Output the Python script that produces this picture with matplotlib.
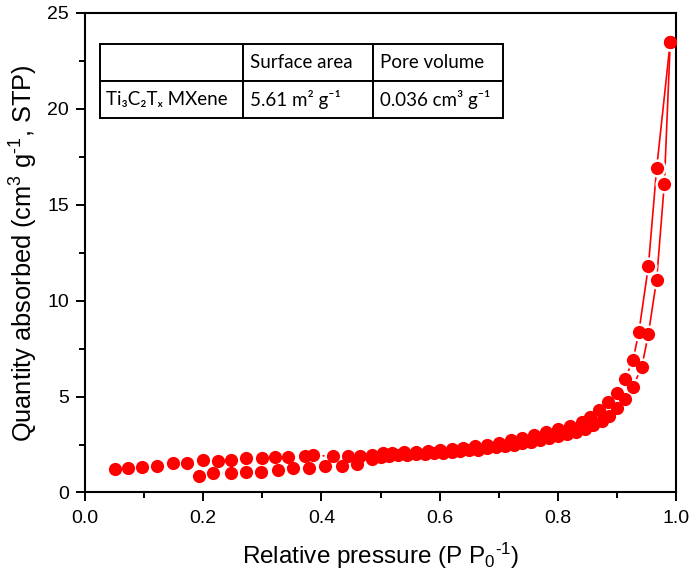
import matplotlib
matplotlib.use("Agg")
import matplotlib.pyplot as plt
from matplotlib.ticker import MultipleLocator

# Desorption branch (upper curve)
p_des = [0.051, 0.073, 0.096, 0.121, 0.148, 0.173, 0.199, 0.225, 0.247, 0.272,
         0.299, 0.321, 0.344, 0.372, 0.385, 0.420, 0.445, 0.465, 0.485, 0.504,
         0.520, 0.540, 0.560, 0.580, 0.600, 0.620, 0.640, 0.660, 0.680, 0.700,
         0.720, 0.740, 0.760, 0.780, 0.800, 0.820, 0.840, 0.855, 0.870, 0.885,
         0.900, 0.913, 0.927, 0.937, 0.953, 0.967, 0.990]
q_des = [1.21, 1.29, 1.31, 1.40, 1.55, 1.55, 1.69, 1.66, 1.68, 1.78,
         1.78, 1.84, 1.84, 1.90, 1.93, 1.90, 1.90, 1.90, 1.98, 2.04,
         2.06, 2.09, 2.12, 2.16, 2.20, 2.25, 2.32, 2.40, 2.50, 2.60,
         2.72, 2.85, 3.00, 3.15, 3.30, 3.45, 3.70, 3.95, 4.30, 4.73,
         5.17, 5.90, 6.90, 8.38, 11.80, 16.90, 23.50]

# Adsorption branch (lower curve)
p_ads = [0.192, 0.217, 0.247, 0.272, 0.297, 0.327, 0.352, 0.379, 0.406, 0.434,
         0.460, 0.485, 0.500, 0.515, 0.530, 0.545, 0.560, 0.575, 0.590, 0.605,
         0.620, 0.635, 0.650, 0.665, 0.680, 0.695, 0.710, 0.725, 0.740, 0.755,
         0.770, 0.785, 0.800, 0.815, 0.830, 0.845, 0.860, 0.874, 0.887, 0.900,
         0.914, 0.927, 0.942, 0.953, 0.967, 0.980, 0.990]
q_ads = [0.86, 1.00, 1.00, 1.08, 1.08, 1.17, 1.29, 1.29, 1.38, 1.38,
         1.47, 1.75, 1.85, 1.90, 1.93, 1.96, 1.99, 2.02, 2.05, 2.08,
         2.11, 2.15, 2.19, 2.24, 2.30, 2.36, 2.43, 2.50, 2.57, 2.65,
         2.74, 2.83, 2.93, 3.04, 3.17, 3.33, 3.52, 3.75, 4.00, 4.40,
         4.86, 5.52, 6.56, 8.26, 11.10, 16.10, 23.50]

# Table contents
col_headers = ["", "Surface area", "Pore volume"]
row_values = ["Ti\u2083C\u2082T\u2093 MXene", "5.61 m\u00b2 g\u207b\u00b9", "0.036 cm\u00b3 g\u207b\u00b9"]

plt.rcParams["font.family"] = ["Liberation Sans", "DejaVu Sans"]
plt.rcParams["mathtext.fontset"] = "custom"
plt.rcParams["mathtext.rm"] = "Liberation Sans"
plt.rcParams["mathtext.it"] = "Liberation Sans:italic"

fig = plt.figure(figsize=(6.93, 5.75), dpi=100)
ax = fig.add_axes([0.1227, 0.1435, 0.853, 0.834])

red = "#ff0000"
ms = 9.5
for p, q in [(p_des, q_des), (p_ads, q_ads)]:
    ax.plot(p, q, color=red, lw=1.2, zorder=1)
    ax.plot(p, q, ls="none", marker="o", ms=ms + 2.5, mfc="white", mec="white", zorder=2)
for p, q in [(p_des, q_des), (p_ads, q_ads)]:
    ax.plot(p, q, ls="none", marker="o", ms=ms, mfc=red, mec=red, mew=0, zorder=3)

ax.set_xlim(0.0, 1.0)
ax.set_ylim(0, 25)
ax.xaxis.set_major_locator(MultipleLocator(0.2))
ax.xaxis.set_minor_locator(MultipleLocator(0.1))
ax.yaxis.set_major_locator(MultipleLocator(5))
ax.yaxis.set_minor_locator(MultipleLocator(2.5))
ax.xaxis.set_major_formatter(plt.FuncFormatter(lambda v, _: f"{v:.1f}"))
ax.tick_params(which="major", direction="out", length=6.5, width=1.4, labelsize=14, colors="black")
ax.tick_params(which="minor", direction="out", length=4, width=1.4)
ax.tick_params(axis="x", which="major", pad=6)
ax.tick_params(axis="y", which="major", pad=5)
for s in ax.spines.values():
    s.set_linewidth(1.5)

hy = "\u2010"
ax.set_xlabel("Relative pressure (P P$_0$$^{" + hy + "1}$)", fontsize=17.5, labelpad=10)
ax.set_ylabel("Quantity absorbed (cm$^3$ g$^{" + hy + "1}$, STP)", fontsize=18.3, labelpad=5)

# Inset table with surface area and pore volume
tbl = ax.table(cellText=[col_headers, row_values],
               colWidths=[0.241, 0.220, 0.220],
               cellLoc="left",
               bbox=[0.0254, 0.78, 0.6818, 0.156])
tbl.auto_set_font_size(False)
for (r, c), cell in tbl.get_celld().items():
    cell.set_linewidth(1.4)
    cell.set_edgecolor("black")
    cell.get_text().set_fontsize(13.5)
    cell.get_text().set_fontfamily(["Lato", "DejaVu Sans"])
    cell.PAD = 0.055 if c > 0 else 0.045

fig.savefig("out.png", dpi=100)
